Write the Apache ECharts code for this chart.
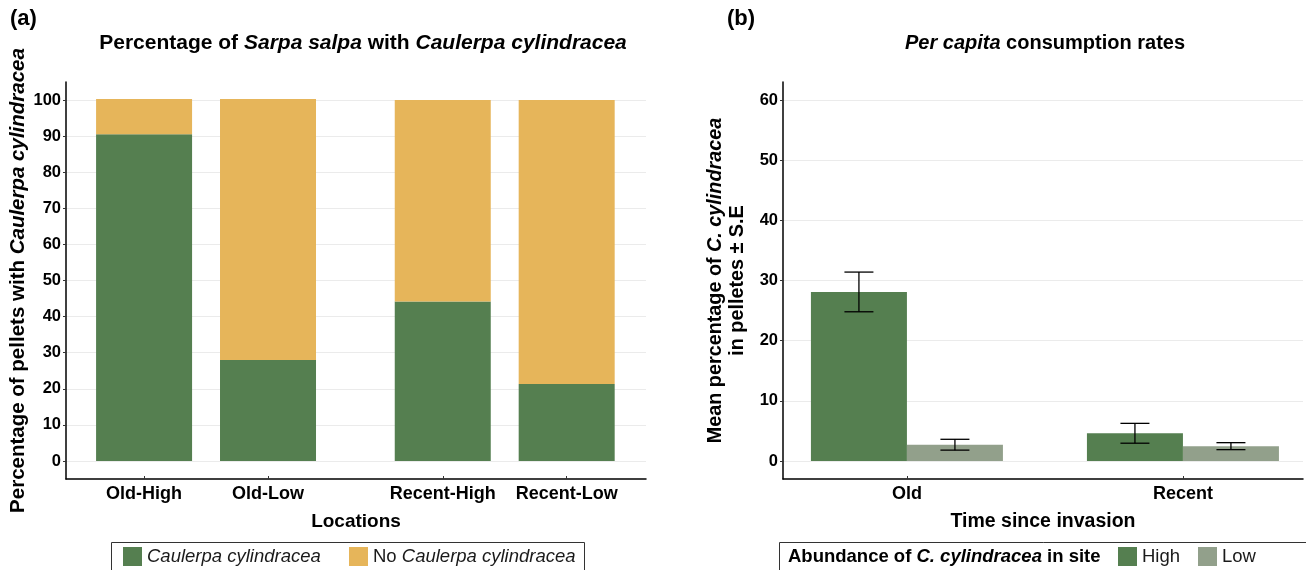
<!DOCTYPE html>
<html><head><meta charset="utf-8">
<script src="https://cdn.jsdelivr.net/npm/echarts@6/dist/echarts.min.js"></script>
<style>html,body{margin:0;padding:0;background:#fff}#c{width:1306px;height:570px}</style>
</head><body><div id="c"></div>
<script>
// ---------- data ----------
const locations = ['Old-High', 'Old-Low', 'Recent-High', 'Recent-Low'];
const withCaulerpa = [90.5, 28.0, 44.2, 21.3];
const withoutCaulerpa = [9.8, 72.3, 55.8, 78.7];
const yTicksA = [0, 10, 20, 30, 40, 50, 60, 70, 80, 90, 100];

const invasionTimes = ['Old', 'Recent'];
const meanHigh = [28.1, 4.6];
const seHigh = [3.3, 1.65];
const meanLow = [2.7, 2.46];
const seLow = [0.9, 0.58];
const yTicksB = [0, 10, 20, 30, 40, 50, 60];

// ---------- layout / style ----------
const FONT = 'Liberation Sans';
const GREEN = '#557f50', ORANGE = '#e6b55a', LOWC = '#92a08b';
const locPos = [1, 2, 3.41, 4.41];
const timePos = [1, 2];
const BARW = 96;

const chart = echarts.init(document.getElementById('c'), null, {renderer: 'canvas'});

function valueYAxis(gridIndex, min, max, ticks, nameText, nameGap, rich, nameSize) {
  return {
    type: 'value', gridIndex, min, max,
    name: nameText, nameLocation: 'middle', nameGap,
    nameTextStyle: {fontFamily: FONT, fontSize: nameSize, fontWeight: 'bold', color: '#000', rich},
    axisLine: {show: true, lineStyle: {color: '#000', width: 1.5}},
    axisTick: {show: true, customValues: ticks, length: 3, lineStyle: {color: '#333'}},
    axisLabel: {customValues: ticks, margin: 5, fontFamily: FONT, fontSize: 16.5, fontWeight: 'bold', color: '#000'},
    splitLine: {show: true, lineStyle: {color: '#ebebeb', width: 1.2}}
  };
}

function valueXAxis(gridIndex, min, max, pos, names, nameText, nameSize) {
  return {
    type: 'value', gridIndex, min, max,
    name: nameText, nameLocation: 'middle', nameGap: 33,
    nameTextStyle: {fontFamily: FONT, fontSize: nameSize, fontWeight: 'bold', color: '#000'},
    axisLine: {show: true, onZero: false, lineStyle: {color: '#000', width: 1.5}},
    axisTick: {show: true, customValues: pos, length: 3, inside: true, lineStyle: {color: '#333'}},
    axisLabel: {customValues: pos, margin: 6, fontFamily: FONT, fontSize: 18, fontWeight: 'bold', color: '#000',
      formatter: v => { const i = pos.findIndex(p => Math.abs(p - v) < 1e-6); return i >= 0 ? names[i] : ''; }},
    splitLine: {show: false}
  };
}

// stacked rectangle: value(0)=x, value(1)=bottom, value(2)=top
function stackRender(params, api) {
  const b = api.coord([api.value(0), api.value(1)]);
  const t = api.coord([api.value(0), api.value(2)]);
  return {type: 'rect', shape: {x: b[0] - BARW / 2, y: t[1], width: BARW, height: b[1] - t[1]},
    style: {fill: api.visual('color')}};
}

function errRender(offset) {
  return function (params, api) {
    const lo = api.coord([api.value(0), api.value(1)]);
    const hi = api.coord([api.value(0), api.value(2)]);
    const cx = lo[0] + offset, hw = 14.5;
    const st = {stroke: '#000', lineWidth: 1.3};
    return {type: 'group', children: [
      {type: 'line', shape: {x1: cx, y1: lo[1], x2: cx, y2: hi[1]}, style: st},
      {type: 'line', shape: {x1: cx - hw, y1: lo[1], x2: cx + hw, y2: lo[1]}, style: st},
      {type: 'line', shape: {x1: cx - hw, y1: hi[1], x2: cx + hw, y2: hi[1]}, style: st}
    ]};
  };
}

const legText = {fontFamily: FONT, fontSize: 18.5, color: '#1a1a1a'};
const legBase = {top: 547, padding: 0, itemWidth: 19, itemHeight: 19, icon: 'rect', selectedMode: false};
const rb = (size) => ({
  n: {fontFamily: FONT, fontSize: size, fontWeight: 'bold', fill: '#000', color: '#000'},
  i: {fontFamily: FONT, fontSize: size, fontWeight: 'bold', fontStyle: 'italic', fill: '#000', color: '#000'}
});

const option = {
  animation: false,
  backgroundColor: '#fff',
  grid: [
    {left: 66, right: 1306 - 646, top: 82, bottom: 570 - 479},
    {left: 783, right: 3, top: 82, bottom: 570 - 479}
  ],
  xAxis: [
    valueXAxis(0, 0.37, 5.05, locPos, locations, 'Locations', 19),
    valueXAxis(1, 0.551, 2.435, timePos, invasionTimes, 'Time since invasion', 19.5)
  ],
  yAxis: [
    valueYAxis(0, -5, 105, yTicksA, '{n|Percentage of pellets with }{i|Caulerpa cylindracea}', 37, rb(20.5), 20.5),
    valueYAxis(1, -3, 63, yTicksB, '{n|Mean percentage of }{i|C. cylindracea}\n{n|in pelletes ± S.E}', 34,
      {n: Object.assign({lineHeight: 22}, rb(19.8).n), i: Object.assign({lineHeight: 22}, rb(19.8).i)}, 19.8)
  ],
  legend: [
    Object.assign({data: ['Caulerpa cylindracea'], left: 123, textStyle: Object.assign({fontStyle: 'italic'}, legText)}, legBase),
    Object.assign({data: ['No Caulerpa cylindracea'], left: 349, formatter: '{n|No }{i|Caulerpa cylindracea}',
      textStyle: Object.assign({rich: {n: legText, i: Object.assign({fontStyle: 'italic'}, legText)}}, legText)}, legBase),
    Object.assign({data: ['High'], left: 1118, textStyle: legText}, legBase),
    Object.assign({data: ['Low'], left: 1198, textStyle: legText}, legBase)
  ],
  graphic: [
    {type: 'text', left: 10, top: 8, style: {text: '(a)', fontFamily: FONT, fontSize: 22, fontWeight: 'bold', fill: '#000'}},
    {type: 'text', left: 727, top: 8, style: {text: '(b)', fontFamily: FONT, fontSize: 22, fontWeight: 'bold', fill: '#000'}},
    {type: 'text', x: 363, y: 43, style: {
      text: '{n|Percentage of }{i|Sarpa salpa}{n| with }{i|Caulerpa cylindracea}', align: 'center', verticalAlign: 'middle',
      rich: rb(21)}},
    {type: 'text', x: 1045, y: 43, style: {
      text: '{i|Per capita}{n| consumption rates}', align: 'center', verticalAlign: 'middle', rich: rb(20)}},
    {type: 'rect', shape: {x: 111.5, y: 542.5, width: 473, height: 40}, style: {fill: 'none', stroke: '#333', lineWidth: 1}},
    {type: 'rect', shape: {x: 779.5, y: 542.5, width: 540, height: 40}, style: {fill: 'none', stroke: '#333', lineWidth: 1}},
    {type: 'text', x: 788, y: 557, style: {
      text: '{n|Abundance of }{i|C. cylindracea}{n| in site}', align: 'left', verticalAlign: 'middle', rich: rb(18.5)}}
  ],
  series: [
    {type: 'custom', name: 'Caulerpa cylindracea', xAxisIndex: 0, yAxisIndex: 0, itemStyle: {color: GREEN},
      renderItem: stackRender, encode: {x: 0, y: [1, 2]},
      data: withCaulerpa.map((v, i) => [locPos[i], 0, v])},
    {type: 'custom', name: 'No Caulerpa cylindracea', xAxisIndex: 0, yAxisIndex: 0, itemStyle: {color: ORANGE},
      renderItem: stackRender, encode: {x: 0, y: [1, 2]},
      data: withoutCaulerpa.map((v, i) => [locPos[i], withCaulerpa[i], withCaulerpa[i] + v])},
    {type: 'bar', name: 'High', xAxisIndex: 1, yAxisIndex: 1, barWidth: BARW, barGap: '0%',
      itemStyle: {color: GREEN}, data: meanHigh.map((v, i) => [timePos[i], v])},
    {type: 'bar', name: 'Low', xAxisIndex: 1, yAxisIndex: 1, barWidth: BARW, barGap: '0%',
      itemStyle: {color: LOWC}, data: meanLow.map((v, i) => [timePos[i], v])},
    {type: 'custom', xAxisIndex: 1, yAxisIndex: 1, z: 10, renderItem: errRender(-BARW / 2), encode: {x: 0, y: [1, 2]},
      data: meanHigh.map((v, i) => [timePos[i], v - seHigh[i], v + seHigh[i]])},
    {type: 'custom', xAxisIndex: 1, yAxisIndex: 1, z: 10, renderItem: errRender(BARW / 2), encode: {x: 0, y: [1, 2]},
      data: meanLow.map((v, i) => [timePos[i], v - seLow[i], v + seLow[i]])}
  ]
};
chart.setOption(option);
</script></body></html>
